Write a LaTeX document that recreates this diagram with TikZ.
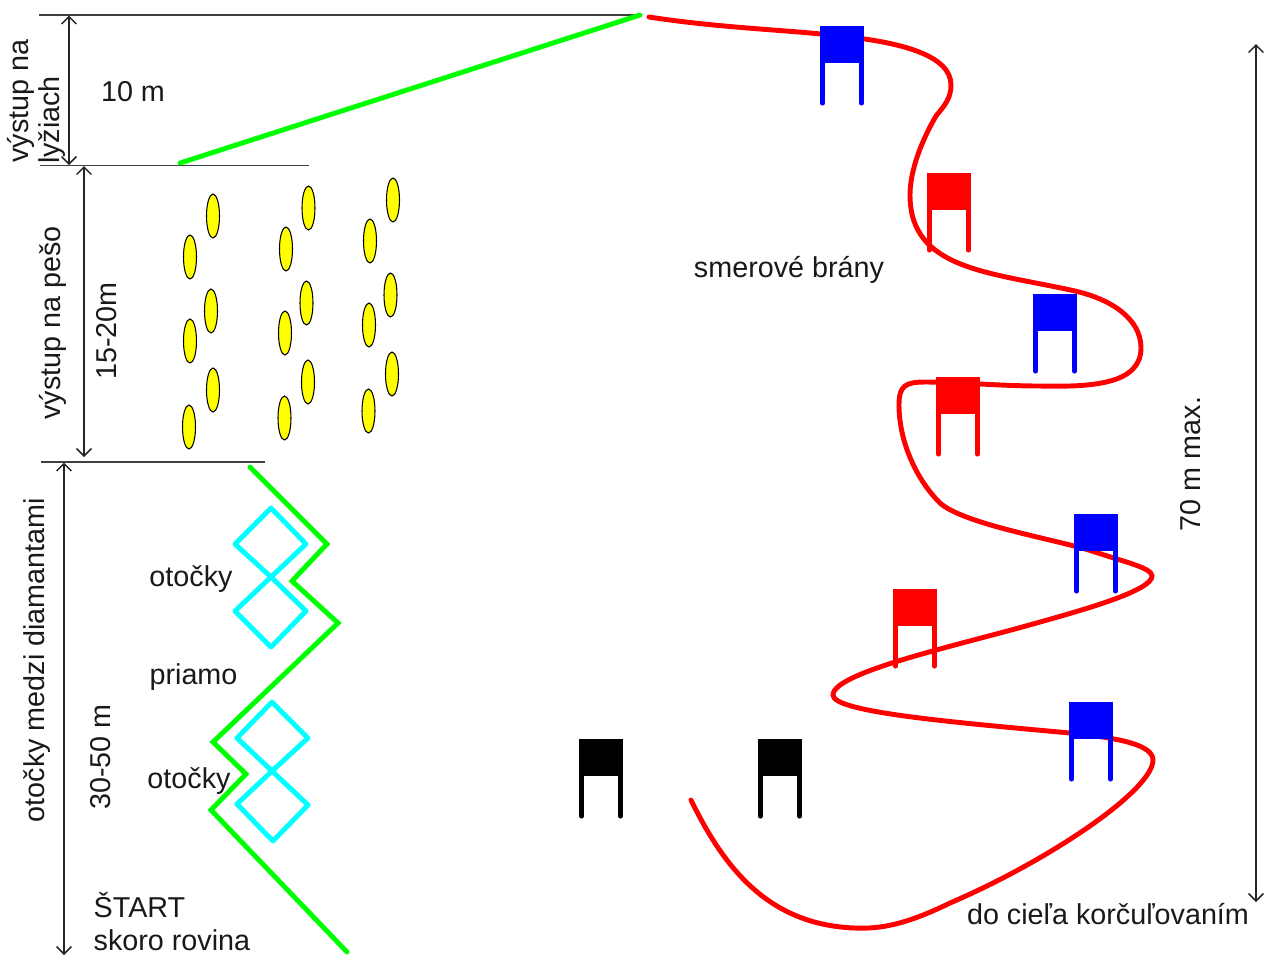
\documentclass[tikz,border=0pt]{standalone}
\usepackage{fontspec}
\setmainfont{Liberation Sans}
\usetikzlibrary{arrows.meta}
\definecolor{gatered}{RGB}{255,0,0}
\definecolor{gateblue}{RGB}{0,0,255}
\definecolor{linegreen}{RGB}{0,255,0}
\definecolor{diamantcyan}{RGB}{0,255,255}
\definecolor{coneyellow}{RGB}{255,255,0}
\tikzset{dimline/.style={line width=0.42pt,color=black!75},
         dimarrow/.style={line width=0.42pt,color=black!85,<->},
         greenline/.style={line width=1.4pt,color=linegreen,line cap=round,line join=miter},
         redline/.style={line width=1.4pt,color=gatered,line cap=round},
         diamantline/.style={line width=1.4pt,color=diamantcyan,line join=round},
         cone/.style={line width=0.3pt,draw=black,fill=coneyellow},
         label/.style={font=\fontsize{8.17}{9.8}\selectfont,text=black!90,inner sep=0pt}}
\newcommand{\brana}[3]{%
  \fill [#3] (#1,#2) rectangle +(44,37);
  \draw [#3,line width=1.45pt,line cap=round] (#1+2.5,#2+37) -- (#1+2.5,#2+77);
  \draw [#3,line width=1.45pt,line cap=round] (#1+41.5,#2+37) -- (#1+41.5,#2+77);
}

\begin{document}
\begin{tikzpicture}[x=0.01cm,y=-0.01cm,>={Straight Barb[length=2.1pt,width=4.2pt]}]
  \useasboundingbox (0,0) rectangle (1266,956);

  \coordinate (top)   at (39,15);
  \coordinate (topr)  at (640,15);
  \coordinate (ski)   at (40,165.5);
  \coordinate (skir)  at (309,165.5);
  \coordinate (foot)  at (41,462);
  \coordinate (footr) at (265,462);

  \draw [dimline] (top) -- (topr);
  \draw [dimline] (ski) -- (skir);
  \draw [dimline] (foot) -- (footr);

  \draw [dimarrow] (69,15.5) -- (69,165);
  \draw [dimarrow] (84,166) -- (84,457);
  \draw [dimarrow] (64,462.5) -- (64,955);
  \draw [dimarrow] (1256,44) -- (1256,902);

  % climb
  \draw [greenline] (180,163) -- (640,15);

  % yellow marks
  \draw [cone] (213,216) ellipse (6.5 and 22);
  \draw [cone] (190,257) ellipse (6.5 and 22);
  \draw [cone] (211,311) ellipse (6.5 and 22);
  \draw [cone] (190,341) ellipse (6.5 and 22);
  \draw [cone] (213,390) ellipse (6.5 and 22);
  \draw [cone] (189,427) ellipse (6.5 and 22);
  \draw [cone] (308.5,208) ellipse (6.5 and 22);
  \draw [cone] (286,249) ellipse (6.5 and 22);
  \draw [cone] (306.5,303) ellipse (6.5 and 22);
  \draw [cone] (285,333) ellipse (6.5 and 22);
  \draw [cone] (308,382) ellipse (6.5 and 22);
  \draw [cone] (284.5,418) ellipse (6.5 and 22);
  \draw [cone] (393,200) ellipse (6.5 and 22);
  \draw [cone] (370,241) ellipse (6.5 and 22);
  \draw [cone] (390.5,295) ellipse (6.5 and 22);
  \draw [cone] (369,325) ellipse (6.5 and 22);
  \draw [cone] (392,374) ellipse (6.5 and 22);
  \draw [cone] (368.5,411) ellipse (6.5 and 22);

  % diamonds
  \draw [diamantline] (271,508) -- (306,544) -- (271,577) -- (235,544) -- cycle;
  \draw [diamantline] (271,577) -- (306,611) -- (271,647) -- (235,611) -- cycle;
  \draw [diamantline] (272,702) -- (308,738) -- (272,771) -- (237,738) -- cycle;
  \draw [diamantline] (272,771) -- (308,805) -- (273,841) -- (237,804) -- cycle;

  \draw [greenline] (250,467) -- (327,544) -- (292,581) -- (338,623) -- (213,742)
                    -- (246,774) -- (211,810) -- (347,952);

  % course
  \draw [redline] (649,17) .. controls (720,28) and (790,30) .. (840,36)
    .. controls (900,42) and (951,55) .. (951,85)
    .. controls (951,98) and (945,105) .. (936,116)
    .. controls (922,140) and (910,170) .. (910,195)
    .. controls (910,270) and (990,272) .. (1075,291)
    .. controls (1110,299) and (1141,318) .. (1141,348)
    .. controls (1141,385) and (1090,387) .. (1040,386)
    .. controls (1000,386) and (960,382) .. (925,382)
    .. controls (905,382) and (899,386) .. (899,405)
    .. controls (899,440) and (915,478) .. (940,503)
    .. controls (965,525) and (1060,540) .. (1095,552)
    .. controls (1125,562) and (1152,568) .. (1152,576)
    .. controls (1152,590) and (1090,608) .. (1040,622)
    .. controls (960,645) and (833,672) .. (833,695)
    .. controls (833,712) and (950,722) .. (1070,733)
    .. controls (1120,738) and (1153,745) .. (1153,760)
    .. controls (1153,790) and (1050,860) .. (950,903)
    .. controls (905,925) and (880,929) .. (855,928)
    .. controls (770,925) and (725,870) .. (691,800);

  % gates
  \brana{820}{26}{gateblue}
  \brana{927}{173}{gatered}
  \brana{1033}{294}{gateblue}
  \brana{936}{377}{gatered}
  \brana{1074}{514}{gateblue}
  \brana{893}{589}{gatered}
  \brana{1069}{702}{gateblue}
  \brana{579}{739}{black}
  \brana{758}{739}{black}

  \node [label,rotate=90] (vlyze)  at (20.5,101) {výstup na};
  \node [label,rotate=90] (vlyze2) at (52,120)   {lyžiach};
  \node [label] (vyska)  at (133,92)  {10 m};
  \node [label,rotate=90] (vpeso)  at (53,323)  {výstup na pešo};
  \node [label,rotate=90] (dpeso)  at (107,331) {15-20m};
  \node [label,rotate=90] (votoc)  at (37,660)  {otočky medzi diamantami};
  \node [label,rotate=90] (dotoc)  at (100.5,757) {30-50 m};
  \node [label] (otocky)  at (191,579) {otočky};
  \node [label] (priamo)  at (193.5,677) {priamo};
  \node [label] (otocky2) at (189,781) {otočky};
  \node [label,anchor=west] (start) at (93,905) {ŠTART};
  \node [label,anchor=west] (rovina) at (93,940) {skoro rovina};
  \node [label] (brany)  at (789,270) {smerové brány};
  \node [label,rotate=90] (dlzka) at (1190.5,464) {70 m max.};
  \node [label] (ciel)   at (1108,914) {do cieľa korčuľovaním};
\end{tikzpicture}
\end{document}
